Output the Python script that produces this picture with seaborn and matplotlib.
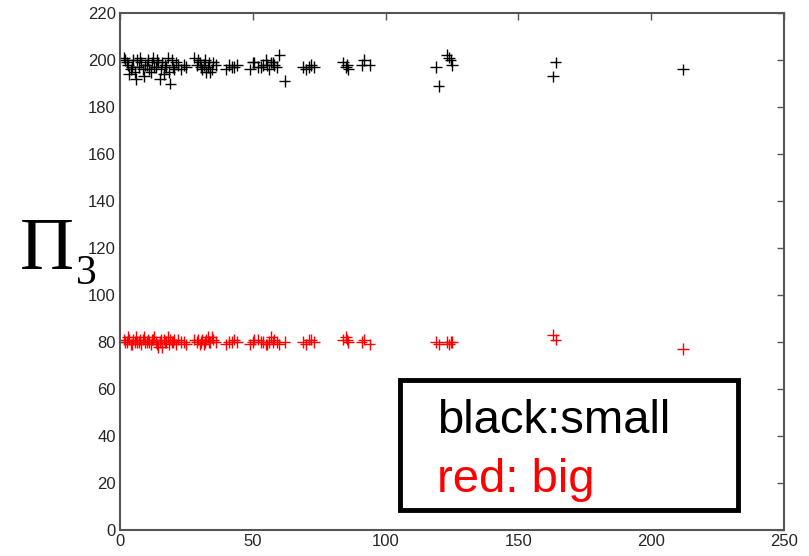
import seaborn as sns
import matplotlib.pyplot as plt
import matplotlib.patches as mpatches
import pandas as pd

# x positions (shared by both groups)
x_vals = [1.5, 2, 3, 4, 5, 5.5, 6, 7, 7.5, 8, 9, 10, 10.5, 11, 12, 13, 14, 15,
          15.5, 16, 17, 18, 18.5, 19, 20, 21, 22, 23, 28, 29, 30, 31, 32, 33,
          34, 35, 36, 40, 41, 43, 44, 49, 50, 52, 54, 55, 56, 57, 58, 59, 60,
          62, 69, 70, 72, 73, 84, 85, 86, 91, 92, 94, 119, 120, 123, 124, 125,
          163, 164, 212,
          2.5, 3.5, 4.5, 6.5, 8.5, 9.5, 11.5, 12.5, 13.5, 14.5, 16.5, 17.5,
          19.5, 20.5, 24, 25, 29.5, 30.5, 31.5, 32.5, 33.5, 34.5, 42, 50.5,
          53, 55.5, 57.5, 71, 85.5, 124.5]
small_vals = [201, 200, 198, 196, 200, 195, 192, 197, 201, 199, 193, 198, 200,
              196, 199, 197, 200, 192, 196, 199, 198, 201, 195, 190, 197, 199,
              198, 196, 201, 198, 199, 196, 200, 197, 195, 199, 198, 196, 198,
              197, 198, 196, 199, 197, 198, 200, 196, 199, 198, 197, 202, 191,
              197, 196, 198, 197, 199, 197, 196, 198, 200, 198, 197, 189, 202,
              201, 198, 193, 199, 196,
              199, 194, 197, 200, 196, 198, 195, 201, 197, 199, 194, 197, 200,
              196, 198, 197, 200, 197, 198, 195, 199, 196, 197, 199, 197, 198,
              199, 197, 198, 200]
big_vals = [81, 80, 82, 79, 81, 80, 82, 80, 81, 79, 82, 80, 81, 80, 81, 82,
            79, 80, 81, 78, 80, 82, 79, 81, 80, 79, 81, 80, 81, 80, 79, 81, 80,
            82, 80, 81, 80, 79, 80, 81, 80, 79, 80, 81, 80, 79, 80, 82, 81, 80,
            79, 80, 80, 79, 81, 80, 81, 82, 80, 80, 81, 79, 80, 79, 80, 79, 80,
            83, 81, 77,
            80, 81, 79, 80, 81, 80, 79, 81, 80, 78, 81, 80, 80, 81, 80, 79, 81,
            80, 79, 81, 80, 82, 80, 81, 80, 79, 80, 81, 81, 80]

df = pd.DataFrame({
    "x": x_vals * 2,
    "pi3": small_vals + big_vals,
    "group": ["small"] * len(x_vals) + ["big"] * len(x_vals),
})

sns.set_style("white")
plt.rcParams["font.family"] = ["Liberation Sans", "DejaVu Sans"]

fig = plt.figure(figsize=(8.09, 5.56), dpi=100)
ax = fig.add_axes([0.1483, 0.0468, 0.8207, 0.9298])

sns.scatterplot(data=df, x="x", y="pi3", hue="group",
                palette={"small": "black", "big": "red"},
                marker="+", s=70, linewidth=1, legend=False, ax=ax)

ax.set_xlim(0, 250)
ax.set_ylim(0, 220)
ax.set_xticks(range(0, 251, 50))
ax.set_yticks(range(0, 221, 20))
ax.set_xlabel("")
ax.set_ylabel("")
ax.tick_params(direction="in", length=5, width=1, color="#555555",
               top=True, right=True, labelsize=12, pad=3)
for sp in ax.spines.values():
    sp.set_color("#555555")
    sp.set_linewidth(1.5)

# y label: Pi with subscript 3
fig.text(0.025, 0.548, "\u03a0", family="Liberation Serif", fontsize=54,
         ha="left", va="center", color="black")
fig.text(0.094, 0.508, "3", family="Liberation Serif", fontsize=30,
         ha="left", va="center", color="black")

# legend-like box
ax.add_patch(mpatches.Rectangle((0.4217, 0.0388), 0.5093, 0.2519,
                                transform=ax.transAxes, fill=False,
                                edgecolor="black", linewidth=3.5, zorder=5))
ax.text(0.477, 0.188, "black:small", transform=ax.transAxes, color="black",
        fontsize=34, va="baseline", ha="left")
ax.text(0.477, 0.074, "red: big", transform=ax.transAxes, color="red",
        fontsize=34, va="baseline", ha="left")

fig.savefig("out.png", dpi=100)
